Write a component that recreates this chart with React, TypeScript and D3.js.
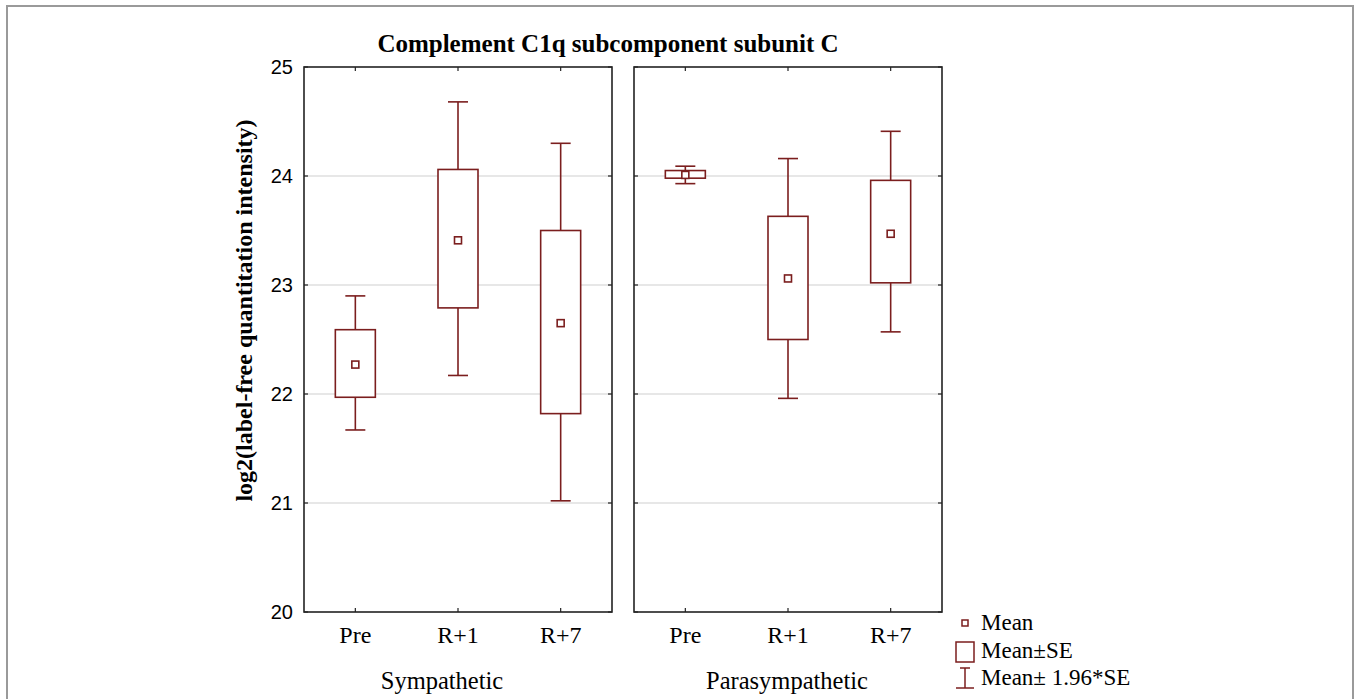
import React from 'react';
import * as d3 from 'd3';

const groups = ['Sympathetic', 'Parasympathetic'];
const categories = ['Pre', 'R+1', 'R+7'];
const yTicks = [20, 21, 22, 23, 24, 25];

const symMean = [22.27, 23.41, 22.65];
const symBoxLow = [21.97, 22.79, 21.82];
const symBoxHigh = [22.59, 24.06, 23.5];
const symWhiskLow = [21.67, 22.17, 21.02];
const symWhiskHigh = [22.9, 24.68, 24.3];

const paraMean = [24.01, 23.06, 23.47];
const paraBoxLow = [23.98, 22.5, 23.02];
const paraBoxHigh = [24.05, 23.63, 23.96];
const paraWhiskLow = [23.93, 21.96, 22.57];
const paraWhiskHigh = [24.09, 24.16, 24.41];

const title = 'Complement C1q subcomponent subunit C';
const yLabel = 'log2(label-free quantitation intensity)';
const legendItems = ['Mean', 'Mean\u00B1SE', 'Mean\u00B1 1.96*SE'];

const W = 1356;
const H = 699;
const RED = '#7b1e1e';
const SERIF = '"Liberation Serif", "Times New Roman", serif';
const SANS = '"Liberation Sans", Arial, sans-serif';

export default function App() {
  const outer = d3.scaleBand<string>().domain(groups).range([304, 942]).paddingInner(22 / 330).paddingOuter(0);
  const y = d3.scaleLinear().domain([20, 25]).range([612, 67]);
  const bw = outer.bandwidth();
  const inner = d3.scaleBand<string>().domain(categories).range([0, bw]).padding(0);

  const data = [
    { mean: symMean, bl: symBoxLow, bh: symBoxHigh, wl: symWhiskLow, wh: symWhiskHigh },
    { mean: paraMean, bl: paraBoxLow, bh: paraBoxHigh, wl: paraWhiskLow, wh: paraWhiskHigh },
  ];
  const boxW = 40;
  const capW = 20;
  const tick = 4;
  const groupLabelX = [442, 787];

  return (
    <svg width={W} height={H} style={{ position: 'absolute', left: 0, top: 0, background: '#fff' }}>
      <rect x={7} y={6} width={1346} height={H + 10} fill="none" stroke="#9a9a9a" strokeWidth={2} />
      <text x={608} y={52} textAnchor="middle" fontFamily={SERIF} fontWeight="bold" fontSize={25}>{title}</text>
      <text transform={`translate(252,${(y(25) + y(20)) / 2 - 29}) rotate(-90)`} textAnchor="middle" fontFamily={SERIF} fontWeight="bold" fontSize={24}>{yLabel}</text>
      {yTicks.map((t) => (
        <text key={t} x={293} y={y(t)} dy="0.36em" textAnchor="end" fontFamily={SANS} fontSize={20}>{t}</text>
      ))}
      {groups.map((g, gi) => {
        const x0 = outer(g)!;
        const d = data[gi];
        return (
          <g key={g}>
            {yTicks.filter((t) => t > 20 && t < 25).map((t) => (
              <line key={t} x1={x0} x2={x0 + bw} y1={y(t)} y2={y(t)} stroke="#cfcfcf" strokeWidth={1} />
            ))}
            {yTicks.map((t) => (
              <g key={'t' + t}>
                <line x1={x0} x2={x0 + tick} y1={y(t)} y2={y(t)} stroke="#222" strokeWidth={1.2} />
                <line x1={x0 + bw - tick} x2={x0 + bw} y1={y(t)} y2={y(t)} stroke="#222" strokeWidth={1.2} />
              </g>
            ))}
            {categories.map((c) => {
              const cx = x0 + inner(c)! + inner.bandwidth() / 2;
              return (
                <g key={'c' + c}>
                  <line x1={cx} x2={cx} y1={y(25)} y2={y(25) + tick} stroke="#222" strokeWidth={1.2} />
                  <line x1={cx} x2={cx} y1={y(20)} y2={y(20) - tick} stroke="#222" strokeWidth={1.2} />
                  <text x={cx} y={643} textAnchor="middle" fontFamily={SERIF} fontSize={24}>{c}</text>
                </g>
              );
            })}
            {categories.map((c, i) => {
              const cx = x0 + inner(c)! + inner.bandwidth() / 2;
              return (
                <g key={'b' + c} stroke={RED} strokeWidth={1.6} fill="none">
                  <line x1={cx} x2={cx} y1={y(d.wh[i])} y2={y(d.bh[i])} />
                  <line x1={cx} x2={cx} y1={y(d.bl[i])} y2={y(d.wl[i])} />
                  <line x1={cx - capW / 2} x2={cx + capW / 2} y1={y(d.wh[i])} y2={y(d.wh[i])} />
                  <line x1={cx - capW / 2} x2={cx + capW / 2} y1={y(d.wl[i])} y2={y(d.wl[i])} />
                  <rect x={cx - boxW / 2} y={y(d.bh[i])} width={boxW} height={y(d.bl[i]) - y(d.bh[i])} fill="#fff" />
                  <rect x={cx - 3.5} y={y(d.mean[i]) - 3.5} width={7} height={7} fill="#fff" />
                </g>
              );
            })}
            <rect x={x0} y={y(25)} width={bw} height={y(20) - y(25)} fill="none" stroke="#222" strokeWidth={1.6} />
            <text x={groupLabelX[gi]} y={689} textAnchor="middle" fontFamily={SERIF} fontSize={24.5}>{g}</text>
          </g>
        );
      })}
      <g stroke={RED} strokeWidth={1.5} fill="none">
        <rect x={962} y={620} width={6} height={6} />
        <rect x={956} y={642} width={18} height={20} />
        <line x1={965} x2={965} y1={668} y2={688} />
        <line x1={960} x2={970} y1={668} y2={668} />
        <line x1={956} x2={974} y1={688} y2={688} />
      </g>
      {legendItems.map((t, i) => (
        <text key={t} x={981} y={[630, 658, 685][i]} fontFamily={SERIF} fontSize={23}>{t}</text>
      ))}
    </svg>
  );
}
